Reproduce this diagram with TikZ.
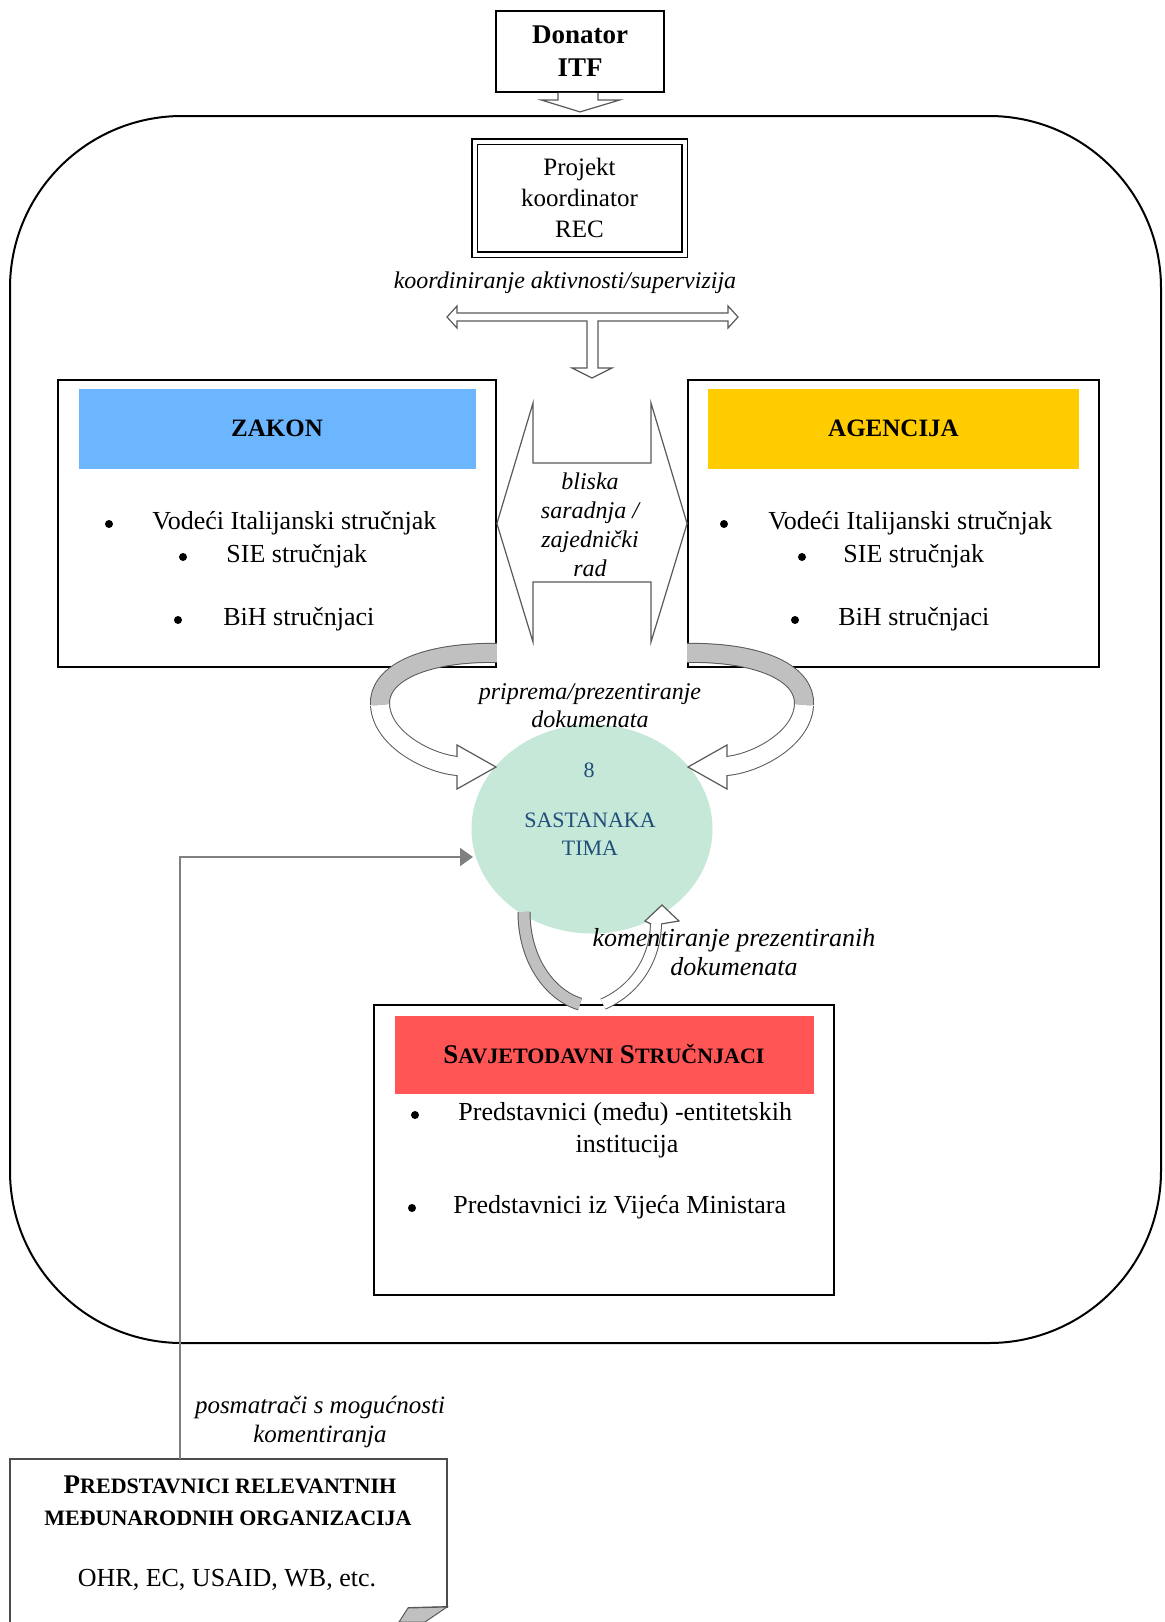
\documentclass[tikz,border=0pt]{standalone}
\usepackage{fontspec}
\setmainfont{Liberation Serif}
\usetikzlibrary{shapes.geometric, arrows.meta, positioning, calc}
\definecolor{zakonBlue}{RGB}{108, 181, 255}
\definecolor{agencijaGold}{RGB}{255, 204, 0}
\definecolor{savjetRed}{RGB}{255, 85, 85}
\definecolor{timaGreen}{RGB}{198, 232, 216}
\definecolor{timaText}{RGB}{31, 78, 121}
\definecolor{bandGray}{RGB}{192, 192, 192}
\definecolor{connGray}{RGB}{128, 128, 128}
\newcommand{\scfake}[2]{{\fontsize{13.5}{15}\selectfont #1}{\fontsize{11}{15}\selectfont #2}}

\begin{document}
\begin{tikzpicture}[
        x=0.5pt, y=-0.5pt,
        box/.style={rectangle, draw=black, line width=0.9pt, fill=white, inner sep=0pt},
        hdr/.style={rectangle, inner sep=0pt, font=\fontsize{12.5}{15}\selectfont\bfseries},
        item/.style={anchor=west, inner sep=0pt, text height=0.7em, text depth=0.2em, font=\fontsize{13}{15}\selectfont},
        dot/.style={circle, fill=black, inner sep=0pt, minimum size=4pt},
        note/.style={align=center, inner sep=0pt, font=\fontsize{12}{14}\selectfont\itshape},
        hollow/.style={draw=black!65, line width=0.6pt, fill=white},
        band/.style={draw=black!65, line width=0.5pt, double distance=9pt},
        conn/.style={draw=connGray, line width=1pt, -{Triangle[length=6.5pt, width=9pt]}},
        tima/.style={inner sep=0pt, text=timaText, font=\fontsize{11}{13}\selectfont}
    ]
        \fill[white] (0,0) rectangle (1164,1622);
        \useasboundingbox (0,0) rectangle (1164,1622);

        % Frame
        \draw[line width=1pt, rounded corners=86pt] (10,116) rectangle (1161,1343);

        % Donator
        \node[box, minimum width=84pt, minimum height=40.5pt, align=center,
              font=\fontsize{13.5}{16.5}\selectfont\bfseries] (donor) at (580,51.5) {Donator\\ITF};
        \draw[hollow] ($(donor.south)+(-22,0)$) -- ++(0,7) -- ++(-17,0) -- ($(donor.south)+(0,19)$)
            -- ($(donor.south)+(40,7)$) -- ++(-22,0) -- ++(0,-7);

        % Koordinator
        \node[box, double, double distance=2pt, line width=0.75pt, minimum width=105pt, minimum height=56.5pt,
              align=center, font=\fontsize{12.5}{15.5}\selectfont] (rec) at (579.5,198) {Projekt\\koordinator\\REC};
        \node[note] (koord) at (565,283) {koordiniranje aktivnosti/supervizija};
        \draw[hollow] (447,317) -- ++(10,-11) -- ++(0,7) -- (728,313) -- ++(0,-7) -- ++(10,11) -- ++(-10,11)
            -- ++(0,-7) -- (598,321) -- (598,368) -- ++(14,0) -- ++(-20,10) -- ++(-20,-10) -- ++(15,0)
            -- (587,321) -- (457,321) -- ++(0,7) -- cycle;

        % Zakon
        \node[box, minimum width=219pt, minimum height=143.5pt] (zakon) at (277,523.5) {};
        \node[hdr, fill=zakonBlue, minimum width=198.5pt, minimum height=40pt, below=4.5pt of zakon.north] (zakonH) {ZAKON};
        \node[dot] (zb1) at (109,524) {};
        \node[item] (zt1) at (152,524) {Vodeći Italijanski stručnjak};
        \node[dot] (zb2) at (183,557) {};
        \node[item] (zt2) at (226,557) {SIE stručnjak};
        \node[dot] (zb3) at (178,620) {};
        \node[item] (zt3) at (223,620) {BiH stručnjaci};

        % Agencija
        \node[box, minimum width=205.5pt, minimum height=143.5pt] (agencija) at (893.5,523.5) {};
        \node[hdr, fill=agencijaGold, minimum width=185.5pt, minimum height=40pt, below=4.5pt of agencija.north] (agencijaH) {AGENCIJA};
        \node[dot] (ab1) at (724,524) {};
        \node[item] (at1) at (768,524) {Vodeći Italijanski stručnjak};
        \node[dot] (ab2) at (802,557) {};
        \node[item] (at2) at (843,557) {SIE stručnjak};
        \node[dot] (ab3) at (795,620) {};
        \node[item] (at3) at (838,620) {BiH stručnjaci};

        % Saradnja
        \draw[hollow] (zakon.east) -- (533,403) -- (533,463) -- (651,463) -- (651,403) -- (agencija.west)
            -- (651,642) -- (651,582) -- (533,582) -- (533,642) -- cycle;
        \node[note, font=\fontsize{12}{14.5}\selectfont\itshape] (blisk) at (590,525) {bliska\\saradnja /\\zajednički\\rad};

        % Sastanci
        \node[ellipse, fill=timaGreen, minimum width=120.5pt, minimum height=104.5pt, inner sep=0pt] (tim) at (592,829) {};
        \node[tima] (timN) at (589,770) {8};
        \node[tima] (timS) at (590,820) {SASTANAKA};
        \node[tima] (timT) at (590,848) {TIMA};

        \draw[band, double=bandGray] ($(zakon.south east)+(0,-15)$) .. controls (420,652) and (378,675) .. (380,705);
        \draw[band, double=white] (380,705) .. controls (382,740) and (430,764) .. (458,766);
        \draw[hollow] (457,757) -- (457,745) -- (496,767) -- (457,789) -- (457,775);
        \draw[band, double=bandGray] ($(agencija.south west)+(0,-15)$) .. controls (764,652) and (806,675) .. (804,705);
        \draw[band, double=white] (804,705) .. controls (802,740) and (754,764) .. (726,766);
        \draw[hollow] (727,757) -- (727,745) -- (688,767) -- (727,789) -- (727,775);
        \node[note] (prip) at (590,706) {priprema/prezentiranje\\dokumenata};

        % Savjetodavni
        \node[box, minimum width=230pt, minimum height=145pt] (savjet) at (604,1150) {};
        \node[hdr, fill=savjetRed, minimum width=209.5pt, minimum height=39pt, below=5.5pt of savjet.north] (savjetH)
            {\scfake{S}{AVJETODAVNI} \scfake{S}{TRUČNJACI}};
        \node[dot] (sb1) at (415,1115) {};
        \node[item] (st1) at (458,1115) {Predstavnici (među) -entitetskih};
        \node[item, anchor=center] (st1b) at (627,1147) {institucija};
        \node[dot] (sb2) at (412,1208) {};
        \node[item] (st2) at (453,1208) {Predstavnici iz Vijeća Ministara};

        \draw[band, double=bandGray, double distance=5.5pt] (524,912) .. controls (524,960) and (550,995) .. (savjet.north -| 580,0);
        \draw[band, double=white, double distance=5pt] (savjet.north -| 603,0) .. controls (635,990) and (655,960) .. (656,924);
        \draw[hollow] (651,924) -- (645,921) -- (662,905) -- (679,921) -- (661,924);
        \node[note, font=\fontsize{13}{14.5}\selectfont\itshape] (koment) at (734,952) {komentiranje prezentiranih\\dokumenata};

        % Medjunarodne organizacije
        \draw[line width=0.9pt, draw=black!70] (10,1622) -- (10,1459) -- (447,1459) -- (447,1607) -- (408,1608);
        \filldraw[fill=bandGray, draw=black!65, line width=0.5pt] (447,1607) -- (408,1608) -- (399,1622) -- (425,1622) -- cycle;
        \node[inner sep=0pt, font=\bfseries] (predT1) at (230,1485) {\scfake{P}{REDSTAVNICI RELEVANTNIH}};
        \node[inner sep=0pt, font=\bfseries] (predT2) at (228,1518) {\scfake{}{MEĐUNARODNIH ORGANIZACIJA}};
        \node[inner sep=0pt, font=\fontsize{13}{15}\selectfont] (predT3) at (227,1580) {OHR, EC, USAID, WB, etc.};
        \node[note, font=\fontsize{12.5}{14.5}\selectfont\itshape] (posm) at (320,1422) {posmatrači s mogućnosti\\komentiranja};

        \coordinate (predTop) at (180,1459);
        \coordinate (timIn) at (473,857);
        \draw[conn] (predTop) |- (timIn);
    \end{tikzpicture}
\end{document}
